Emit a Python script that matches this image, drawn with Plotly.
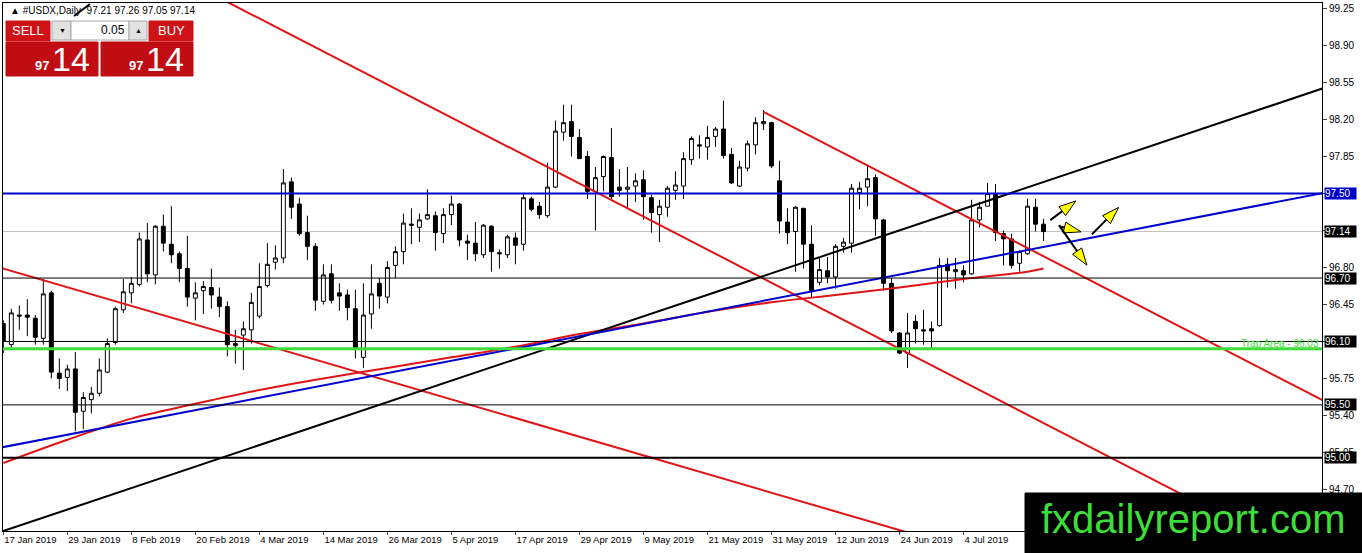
import pandas as pd
import plotly.graph_objects as go

# #USDX daily bars, 17 Jan 2019 .. 18 Jul 2019 (weekdays)
dates = pd.bdate_range("2019-01-17", periods=131)

opens = [96.27, 96.07, 96.35, 96.35, 96.32, 96.13, 96.56, 95.80, 95.76, 95.84,
         95.44, 95.55, 95.61, 95.81, 96.09, 96.40, 96.56, 96.64, 97.06, 96.73,
         97.19, 97.02, 96.93, 96.79, 96.51, 96.58, 96.61, 96.52, 96.43, 96.06,
         96.16, 96.21, 96.34, 96.63, 96.85, 96.89, 97.61, 97.40, 97.13, 97.00,
         96.48, 96.74, 96.56, 96.54, 96.41, 95.95, 96.36, 96.65, 96.52, 96.82,
         96.95, 97.21, 97.18, 97.26, 97.29, 97.12, 97.30, 97.40, 97.05, 97.03,
         96.92, 97.19, 96.94, 96.92, 97.08, 97.02, 97.45, 97.38, 97.29, 97.56,
         98.08, 98.18, 98.03, 97.85, 97.52, 97.66, 97.84, 97.56, 97.54, 97.57,
         97.63, 97.46, 97.30, 97.37, 97.53, 97.57, 97.82, 97.96, 97.94, 98.04,
         98.11, 97.87, 97.57, 97.74, 97.96, 98.16, 98.17, 97.62, 97.23, 97.14,
         97.36, 97.02, 96.66, 96.77, 96.71, 97.00, 97.03, 97.51, 97.56, 97.65,
         97.25, 96.65, 96.18, 95.99, 96.29, 96.21, 96.22, 96.25, 96.83, 96.76,
         96.77, 96.74, 97.25, 97.38, 97.49, 97.12, 97.07, 96.84, 96.93, 97.37,
         97.21]
highs = [96.30, 96.41, 96.44, 96.50, 96.35, 96.69, 96.58, 95.94, 95.88, 96.00,
         95.62, 95.67, 95.94, 96.13, 96.43, 96.69, 96.71, 97.13, 97.22, 97.20,
         97.30, 97.38, 96.95, 97.10, 96.66, 96.67, 96.79, 96.61, 96.48, 96.21,
         96.29, 96.56, 96.84, 97.03, 97.01, 97.73, 97.65, 97.46, 97.29, 97.03,
         96.83, 96.83, 96.65, 96.59, 96.59, 96.65, 96.83, 96.70, 96.86, 97.00,
         97.31, 97.36, 97.31, 97.54, 97.33, 97.36, 97.48, 97.41, 97.11, 97.23,
         97.21, 97.20, 96.97, 97.11, 97.13, 97.50, 97.47, 97.42, 97.79, 98.19,
         98.34, 98.34, 98.11, 97.90, 97.75, 97.86, 98.12, 97.73, 97.75, 97.69,
         97.72, 97.49, 97.44, 97.57, 97.71, 97.89, 98.04, 98.05, 98.14, 98.13,
         98.38, 97.93, 97.81, 98.00, 98.22, 98.29, 98.18, 97.81, 97.36, 97.38,
         97.36, 97.20, 96.89, 96.90, 97.02, 97.08, 97.59, 97.61, 97.77, 97.68,
         97.26, 96.70, 96.19, 96.37, 96.35, 96.40, 96.29, 96.89, 96.89, 96.89,
         96.82, 97.44, 97.42, 97.60, 97.59, 97.15, 97.12, 96.96, 97.45, 97.45,
         97.26]
lows = [95.99, 96.02, 96.21, 96.15, 96.07, 96.07, 95.75, 95.65, 95.63, 95.25,
        95.27, 95.42, 95.58, 95.80, 96.07, 96.37, 96.46, 96.62, 96.66, 96.64,
        96.95, 96.84, 96.66, 96.43, 96.30, 96.36, 96.41, 96.33, 95.96, 95.89,
        95.83, 96.08, 96.32, 96.61, 96.78, 96.84, 97.26, 97.10, 96.87, 96.39,
        96.45, 96.46, 96.39, 96.30, 95.94, 95.85, 96.22, 96.41, 96.46, 96.70,
        96.83, 97.02, 97.04, 97.25, 96.96, 97.03, 97.20, 97.00, 96.87, 96.86,
        96.89, 96.76, 96.79, 96.89, 96.83, 96.96, 97.33, 97.26, 97.27, 97.55,
        98.00, 97.85, 97.83, 97.45, 97.15, 97.52, 97.45, 97.47, 97.36, 97.42,
        97.25, 97.13, 97.04, 97.28, 97.44, 97.45, 97.77, 97.83, 97.82, 97.94,
        97.83, 97.59, 97.56, 97.71, 97.87, 98.10, 97.74, 97.12, 97.02, 96.76,
        96.79, 96.52, 96.63, 96.65, 96.60, 96.94, 96.94, 97.35, 97.38, 97.10,
        96.58, 96.18, 95.98, 95.85, 96.08, 96.07, 96.03, 96.24, 96.61, 96.60,
        96.66, 96.73, 97.18, 97.38, 97.05, 96.82, 96.79, 96.76, 96.92, 97.14,
        97.05]
closes = [96.10, 96.37, 96.34, 96.33, 96.14, 96.55, 95.81, 95.75, 95.84, 95.43,
          95.57, 95.61, 95.83, 96.08, 96.41, 96.57, 96.65, 97.07, 96.74, 97.19,
          97.03, 96.92, 96.79, 96.52, 96.56, 96.62, 96.54, 96.43, 96.07, 96.08,
          96.22, 96.47, 96.62, 96.83, 96.89, 97.60, 97.37, 97.12, 97.00, 96.49,
          96.73, 96.49, 96.53, 96.42, 96.04, 96.35, 96.55, 96.53, 96.80, 96.95,
          97.22, 97.20, 97.25, 97.30, 97.13, 97.30, 97.40, 97.06, 97.03, 96.93,
          97.20, 96.95, 96.93, 97.09, 97.01, 97.46, 97.35, 97.30, 97.56, 98.09,
          98.17, 98.04, 97.83, 97.52, 97.65, 97.85, 97.47, 97.53, 97.56, 97.62,
          97.47, 97.32, 97.38, 97.55, 97.58, 97.83, 98.02, 97.95, 98.03, 98.11,
          97.86, 97.60, 97.75, 97.97, 98.17, 98.18, 97.76, 97.24, 97.13, 97.37,
          97.02, 96.58, 96.78, 96.71, 97.00, 97.04, 97.55, 97.55, 97.64, 97.26,
          96.65, 96.20, 95.99, 96.18, 96.22, 96.20, 96.20, 96.82, 96.77, 96.78,
          96.73, 97.25, 97.37, 97.50, 97.13, 97.07, 96.82, 96.95, 97.38, 97.21,
          97.14]

# moving average (red curve), read at every 8th bar
ma_idx = [0, 8, 16, 24, 32, 40, 48, 56, 64, 72, 80, 88, 96, 104, 112, 120, 128, 130]
ma_vals = [94.95, 95.17, 95.37, 95.51, 95.64, 95.75, 95.85, 95.95, 96.05, 96.17,
           96.27, 96.38, 96.47, 96.54, 96.61, 96.69, 96.76, 96.79]

# horizontal levels
levels = [97.50, 96.70, 96.10, 95.50, 95.00]
level_colors = ["#0000cd", "black", "black", "black", "black"]
level_widths = [2, 1, 1, 1, 2]
bid = 97.14
trap = 96.03

# trend lines: (bar0, price0, bar1, price1)
red_lines = [(20, 99.624, 170, 93.767),
             (-2, 96.834, 170, 93.034),
             (95, 98.272, 170, 95.345)]
black_line = (-2, 94.256, 170, 98.624)
blue_line = (-2, 95.072, 170, 97.578)

# scenario arrows (start bar, start price, head bar, head price)
arrows = [(130.84, 97.248, 134.05, 97.43),
          (131.93, 97.191, 134.68, 97.137),
          (136.05, 97.115, 139.38, 97.368),
          (131.93, 97.200, 135.42, 96.822)]

ytick_vals = [94.70, 95.05, 95.40, 95.75, 96.10, 96.45, 96.80, 97.15,
              97.50, 97.85, 98.20, 98.55, 98.90, 99.25]
# labels fully hidden behind the price boxes on the right
ytick_hidden = [96.10, 97.15, 97.50]
xtick_idx = list(range(0, 121, 8))

RED = "#e01414"
GREEN = "#3ede3a"
FONT = "Liberation Sans"

# plot area in pixels (for the panel / watermark decorations)
def fx(px):
    return (px - 3) / 1319

def fy(py):
    return (531 - py) / 528

x = list(range(len(dates)))

fig = go.Figure()

fig.add_trace(go.Candlestick(
    x=x, open=opens, high=highs, low=lows, close=closes,
    increasing=dict(line=dict(color="black", width=1), fillcolor="white"),
    decreasing=dict(line=dict(color="black", width=1), fillcolor="black"),
    whiskerwidth=0, hoverinfo="skip", showlegend=False,
))

fig.add_trace(go.Scatter(x=ma_idx, y=ma_vals, mode="lines", line=dict(color=RED, width=2, shape="spline"),
                         hoverinfo="skip", showlegend=False))

for x0, y0, x1, y1 in red_lines:
    fig.add_trace(go.Scatter(x=[x0, x1], y=[y0, y1], mode="lines", line=dict(color=RED, width=2),
                             hoverinfo="skip", showlegend=False))
for (x0, y0, x1, y1), col in [(black_line, "black"), (blue_line, "#0000cd")]:
    fig.add_trace(go.Scatter(x=[x0, x1], y=[y0, y1], mode="lines", line=dict(color=col, width=2),
                             hoverinfo="skip", showlegend=False))

for x0, y0, x1, y1 in arrows:
    fig.add_trace(go.Scatter(
        x=[x0, x1], y=[y0, y1], mode="lines+markers",
        line=dict(color="black", width=2),
        marker=dict(symbol="arrow", size=18, angleref="previous", color="#ffff00",
                    opacity=[0, 1], line=dict(color="black", width=1)),
        hoverinfo="skip", showlegend=False))

shapes = []
for lvl, col, w in zip(levels, level_colors, level_widths):
    shapes.append(dict(type="line", xref="paper", x0=0, x1=1, yref="y", y0=lvl, y1=lvl,
                       line=dict(color=col, width=w), layer="above"))
shapes.append(dict(type="line", xref="paper", x0=0, x1=1, yref="y", y0=bid, y1=bid,
                   line=dict(color="#c0c0c0", width=1), layer="below"))
shapes.append(dict(type="line", xref="paper", x0=0, x1=1, yref="y", y0=trap, y1=trap,
                   line=dict(color=GREEN, width=3), layer="above"))

# trade panel (top-left)
def rect(x0, y0, x1, y1, fill, line=None):
    return dict(type="rect", xref="paper", yref="paper", x0=fx(x0), x1=fx(x1), y0=fy(y1), y1=fy(y0),
                fillcolor=fill, line=dict(color=line or fill, width=1), layer="above")

shapes += [
    rect(6, 21, 50, 41, "#cf1218"),
    rect(149, 21, 193, 41, "#cf1218"),
    rect(6, 42, 98, 76, "#c00c12"),
    rect(101, 42, 193, 76, "#c00c12"),
    rect(52, 21, 71, 40, "#e2e2e2", "#a8a8a8"),
    rect(71, 21, 129, 40, "white", "#a8a8a8"),
    rect(129, 21, 147, 40, "#e2e2e2", "#a8a8a8"),
    dict(type="line", xref="paper", yref="paper", x0=fx(74), x1=fx(90), y0=fy(16), y1=fy(4),
         line=dict(color="black", width=2), layer="above"),
    # watermark box
    rect(1025, 493, 1362, 553, "black"),
]

annotations = []

def text(px, py, s, size, color="white", anchor="center", bold=False):
    annotations.append(dict(xref="paper", yref="paper", x=fx(px), y=fy(py), text=f"<b>{s}</b>" if bold else s,
                            showarrow=False, xanchor=anchor, yanchor="middle",
                            font=dict(family=FONT, size=size, color=color)))

text(8, 10, "▲ #USDX,Daily  97.21 97.26 97.05 97.14", 10, "black", "left")
text(28, 31, "SELL", 13)
text(171, 31, "BUY", 13)
text(127, 30, "0.05", 12, "black", "right")
text(62, 30, "▼", 7, "black")
text(138, 30, "▲", 7, "black")
text(42, 65, "97", 13, bold=True)
text(71, 59, "14", 34)
text(136, 65, "97", 13, bold=True)
text(165, 59, "14", 34)
text(1193, 519, "fxdailyreport.com", 40, GREEN)

annotations.append(dict(xref="paper", yref="y", x=fx(1321), y=trap, text="Trap Area - 96.03",
                        showarrow=False, xanchor="right", yanchor="bottom", yshift=-2,
                        font=dict(family=FONT, size=10, color=GREEN)))

for lvl, bg in [(97.50, "#0000cd"), (bid, "black"), (96.70, "black"), (96.10, "black"),
                (95.50, "black"), (95.00, "black")]:
    annotations.append(dict(xref="paper", yref="y", x=fx(1324), y=lvl, text=f"{lvl:.2f}",
                            showarrow=False, xanchor="left", yanchor="middle", align="left",
                            bgcolor=bg, borderpad=0, width=31, height=11,
                            font=dict(family=FONT, size=10, color="white")))

fig.update_layout(
    width=1362, height=553,
    margin=dict(l=3, r=40, t=3, b=22, autoexpand=False),
    paper_bgcolor="white", plot_bgcolor="white",
    showlegend=False,
    shapes=shapes, annotations=annotations,
    font=dict(family=FONT, size=10, color="black"),
    xaxis=dict(range=[-0.04, 164.8], rangeslider=dict(visible=False),
               tickvals=xtick_idx, ticktext=[dates[i].strftime("%-d %b %Y") for i in xtick_idx],
               ticklabelposition="outside right", ticks="outside", ticklen=3, tickangle=0,
               automargin=False, tickfont=dict(family=FONT, size=9.5),
               showgrid=False, zeroline=False, showline=True, linecolor="black", linewidth=1, mirror=True),
    yaxis=dict(range=[94.307, 99.302], side="right", automargin=False,
               tickvals=ytick_vals,
               ticktext=["" if v in ytick_hidden else f"{v:.2f}" for v in ytick_vals],
               ticks="outside", ticklen=4, tickfont=dict(family=FONT, size=10),
               showgrid=False, zeroline=False, showline=True, linecolor="black", linewidth=1, mirror=True),
)

fig.write_html("out.html", config={"displayModeBar": False},
               post_script="document.body.style.margin='0';")
